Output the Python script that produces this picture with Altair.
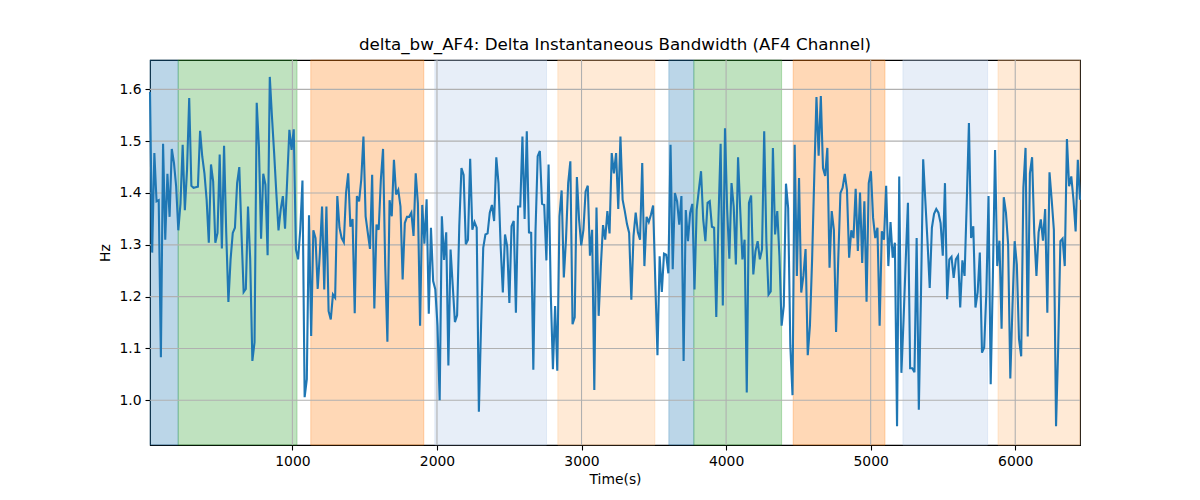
import altair as alt
import numpy as np
import pandas as pd

TITLE = "delta_bw_AF4: Delta Instantaneous Bandwidth (AF4 Channel)"

T_START, T_END = 15, 6448

# bandwidth values (Hz), read left to right
BW_A = [1.595, 1.285, 1.477, 1.384, 1.386, 1.083, 1.495, 1.31, 1.437, 1.354,
        1.485, 1.458, 1.413, 1.328, 1.38, 1.493, 1.367, 1.445, 1.583, 1.414,
        1.41, 1.411, 1.412, 1.52, 1.47, 1.438, 1.387, 1.304, 1.455, 1.422,
        1.304, 1.323, 1.474, 1.293, 1.491, 1.323, 1.19, 1.272, 1.323, 1.333,
        1.419, 1.45, 1.323, 1.209, 1.215, 1.374, 1.272, 1.076, 1.112, 1.574,
        1.49, 1.312, 1.437, 1.416, 1.28]
BW_B = [1.624, 1.547, 1.477, 1.4, 1.328, 1.368, 1.394, 1.331, 1.426, 1.522,
        1.483, 1.523, 1.291, 1.272, 1.33, 1.424, 1.006, 1.041, 1.357, 1.124,
        1.328, 1.313, 1.215, 1.285, 1.374, 1.214, 1.374, 1.172, 1.156, 1.204,
        1.198, 1.394, 1.333, 1.313, 1.305, 1.4, 1.438, 1.335, 1.35, 1.168,
        1.394, 1.384, 1.426, 1.509, 1.355, 1.323, 1.292, 1.435, 1.177, 1.339,
        1.329, 1.426, 1.485, 1.259, 1.113]
BW_C = [1.386, 1.355, 1.464, 1.397, 1.406, 1.374, 1.233, 1.342, 1.354, 1.354,
        1.362, 1.317, 1.438, 1.38, 1.144, 1.377, 1.302, 1.388, 1.167, 1.333,
        1.23, 1.214, 1.144, 1.0, 1.355, 1.271, 1.324, 1.067, 1.291, 1.221,
        1.151, 1.164, 1.336, 1.448, 1.435, 1.301, 1.31, 1.466, 1.329, 1.344,
        1.333, 0.978, 1.144, 1.294, 1.32, 1.322, 1.362, 1.377, 1.346, 1.469,
        1.419, 1.297, 1.208, 1.32, 1.297]
BW_D = [1.188, 1.336, 1.346, 1.169, 1.374, 1.374, 1.509, 1.35, 1.519, 1.324,
        1.323, 1.059, 1.326, 1.471, 1.481, 1.379, 1.377, 1.27, 1.455, 1.208,
        1.06, 1.182, 1.057, 1.355, 1.405, 1.237, 1.31, 1.419, 1.461, 1.147,
        1.16, 1.431, 1.349, 1.299, 1.329, 1.403, 1.414, 1.279, 1.329, 1.02,
        1.372, 1.163, 1.259, 1.338, 1.31, 1.365, 1.322, 1.477, 1.438, 1.477,
        1.369, 1.509, 1.387, 1.365, 1.34]
BW_E = [1.323, 1.194, 1.317, 1.362, 1.324, 1.31, 1.458, 1.259, 1.354, 1.344,
        1.358, 1.376, 1.23, 1.087, 1.278, 1.209, 1.283, 1.281, 1.245, 1.493,
        1.253, 1.4, 1.384, 1.339, 1.394, 1.076, 1.367, 1.307, 1.362, 1.379,
        1.214, 1.368, 1.406, 1.442, 1.349, 1.307, 1.381, 1.384, 1.335, 1.333,
        1.161, 1.349, 1.495, 1.183, 1.525, 1.368, 1.273, 1.419, 1.374, 1.262,
        1.469, 1.367, 1.272, 1.31, 1.015, 1.381]
BW_F = [1.395, 1.243, 1.288, 1.307, 1.272, 1.291, 1.519, 1.307, 1.204, 1.21,
        1.487, 1.32, 1.365, 1.278, 1.144, 1.182, 1.418, 1.371, 1.105, 1.01,
        1.493, 1.24, 1.429, 1.208, 1.24, 1.292, 1.087, 1.144, 1.272, 1.433,
        1.585, 1.472, 1.587, 1.448, 1.433, 1.487, 1.256, 1.365, 1.329, 1.132,
        1.272, 1.4, 1.41, 1.437, 1.406, 1.275, 1.328, 1.313, 1.408, 1.288,
        1.401, 1.265, 1.384, 1.19, 1.419]
BW_G = [1.442, 1.352, 1.313, 1.333, 1.144, 1.326, 1.31, 1.414, 1.259, 1.344,
        1.275, 1.304, 0.95, 1.432, 1.053, 1.156, 1.272, 1.381, 1.062, 1.062,
        1.054, 1.313, 0.982, 1.208, 1.465, 1.384, 1.305, 1.217, 1.333, 1.36,
        1.369, 1.362, 1.342, 1.279, 1.419, 1.195, 1.272, 1.277, 1.236, 1.272,
        1.279, 1.179, 1.27, 1.24, 1.381, 1.535, 1.313, 1.336, 1.179, 1.208,
        1.285, 1.092, 1.102, 1.208, 1.394]
BW_H = [1.031, 1.24, 1.483, 1.259, 1.308, 1.138, 1.392, 1.362, 1.301, 1.042,
        1.182, 1.307, 1.262, 1.118, 1.085, 1.41, 1.487, 1.123, 1.438, 1.469,
        1.323, 1.24, 1.324, 1.349, 1.308, 1.369, 1.169, 1.44, 1.387, 1.329,
        0.95, 1.105, 1.307, 1.312, 1.259, 1.504, 1.413, 1.432, 1.387, 1.326,
        1.464, 1.387]

# shaded segments
BAND_START = [15, 210, 1127, 1985, 2836, 3604, 3777, 4464, 5223, 5881]
BAND_END = [210, 1032, 1909, 2758, 3507, 3777, 4384, 5099, 5809, 6448]
BAND_KIND = ["k1", "k2", "k3", "k4", "k5", "k1", "k2", "k3", "k4", "k5"]
KIND_COLORS = ["#1f77b4", "#2ca02c", "#ff7f0e", "#aec7e8", "#ffbb78"]

X_TICKS = [1000, 2000, 3000, 4000, 5000, 6000]
Y_TICKS = [1.0, 1.1, 1.2, 1.3, 1.4, 1.5, 1.6]
Y_MIN, Y_MAX = 0.9138, 1.6566

bw = BW_A + BW_B + BW_C + BW_D + BW_E + BW_F + BW_G + BW_H
line_df = pd.DataFrame({"t": np.linspace(T_START, T_END, len(bw)), "bw": bw})
bands_df = pd.DataFrame({"start": BAND_START, "end": BAND_END, "kind": BAND_KIND})

FONT = "DejaVu Sans"
x_scale = alt.Scale(domain=[T_START, T_END], nice=False, zero=False)
y_scale = alt.Scale(domain=[Y_MIN, Y_MAX], nice=False, zero=False)
kind_scale = alt.Scale(domain=["k1", "k2", "k3", "k4", "k5"], range=KIND_COLORS)

bands = alt.Chart(bands_df).mark_rect(fillOpacity=0.3, strokeOpacity=0.3, strokeWidth=1).encode(
    x=alt.X("start:Q", scale=x_scale),
    x2="end:Q",
    fill=alt.Fill("kind:N", scale=kind_scale, legend=None),
    stroke=alt.Stroke("kind:N", scale=kind_scale, legend=None),
)

xgrid = alt.Chart(pd.DataFrame({"t": X_TICKS})).mark_rule(color="#b0b0b0", strokeWidth=1.1).encode(
    x=alt.X("t:Q", scale=x_scale)
)
ygrid = alt.Chart(pd.DataFrame({"v": Y_TICKS})).mark_rule(color="#b0b0b0", strokeWidth=1.1).encode(
    y=alt.Y("v:Q", scale=y_scale)
)

line = alt.Chart(line_df).mark_line(color="#1f77b4", strokeWidth=2.1).encode(
    x=alt.X("t:Q", scale=x_scale, title="Time(s)",
            axis=alt.Axis(values=X_TICKS, format="d", grid=False, domain=False,
                          tickSize=5, tickColor="black", tickWidth=1.1,
                          labelFontSize=13.9, labelFont=FONT, labelColor="black", labelPadding=4,
                          titleFontSize=13.9, titleFont=FONT, titleFontWeight="normal",
                          titleColor="black", titlePadding=5)),
    y=alt.Y("bw:Q", scale=y_scale, title="Hz",
            axis=alt.Axis(values=Y_TICKS, format=".1f", grid=False, domain=False,
                          tickSize=5, tickColor="black", tickWidth=1.1,
                          labelFontSize=13.9, labelFont=FONT, labelColor="black", labelPadding=4,
                          titleFontSize=13.9, titleFont=FONT, titleFontWeight="normal",
                          titleColor="black", titlePadding=6)),
)

chart = alt.layer(bands, xgrid, ygrid, line).properties(
    width=930, height=385,
    autosize=alt.AutoSizeParams(type="none"),
    padding={"left": 142, "top": 52, "right": 112, "bottom": 46},
    title=alt.TitleParams(text=TITLE, fontSize=16.7, font=FONT, fontWeight="normal",
                          color="black", anchor="middle", baseline="bottom", offset=5, dy=16),
).configure_view(stroke="black", strokeWidth=1.1)

chart.save("out.html", embed_options={"renderer": "svg", "actions": False})
